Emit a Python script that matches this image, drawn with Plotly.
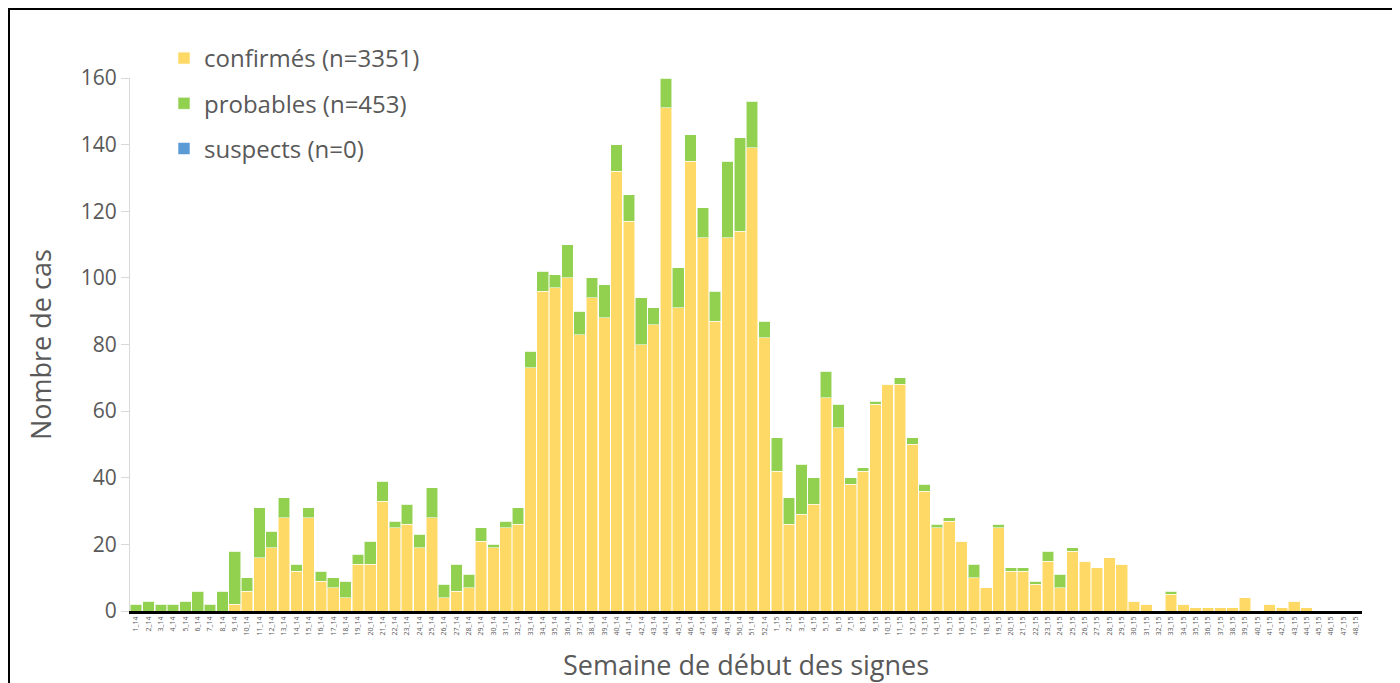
import plotly.graph_objects as go

weeks_2014 = [f"{i}_14" for i in range(1, 53)]
weeks_2015 = [f"{i}_15" for i in range(1, 49)]
categories = weeks_2014 + weeks_2015

confirmes_2014 = [0, 0, 0, 0, 0, 0, 0, 0, 2, 6, 16, 19, 28, 12, 28, 9, 7, 4, 14, 14,
                  33, 25, 26, 19, 28, 4, 6, 7, 21, 19, 25, 26, 73, 96, 97, 100, 83, 94, 88, 132,
                  117, 80, 86, 151, 91, 135, 112, 87, 112, 114, 139, 82]
confirmes_2015 = [42, 26, 29, 32, 64, 55, 38, 42, 62, 68, 68, 50, 36, 25, 27, 21, 10, 7, 25, 12,
                  12, 8, 15, 7, 18, 15, 13, 16, 14, 3, 2, 0, 5, 2, 1, 1, 1, 1, 4, 0,
                  2, 1, 3, 1, 0, 0, 0, 0]
probables_2014 = [2, 3, 2, 2, 3, 6, 2, 6, 16, 4, 15, 5, 6, 2, 3, 3, 3, 5, 3, 7,
                  6, 2, 6, 4, 9, 4, 8, 4, 4, 1, 2, 5, 5, 6, 4, 10, 7, 6, 10, 8,
                  8, 14, 5, 9, 12, 8, 9, 9, 23, 28, 14, 5]
probables_2015 = [10, 8, 15, 8, 8, 7, 2, 1, 1, 0, 2, 2, 2, 1, 1, 0, 4, 0, 1, 1,
                  1, 1, 3, 4, 1, 0, 0, 0, 0, 0, 0, 0, 1, 0, 0, 0, 0, 0, 0, 0,
                  0, 0, 0, 0, 0, 0, 0, 0]
suspects_all = [0] * 100

confirmes = confirmes_2014 + confirmes_2015
probables = probables_2014 + probables_2015

y_ticks = [0, 20, 40, 60, 80, 100, 120, 140, 160]

names = ["confirmés (n=3351)", "probables (n=453)", "suspects (n=0)"]
colors = ["#FFD966", "#92D050", "#5B9BD5"]
series = [confirmes, probables, suspects_all]

FONT = "Open Sans"
GREY = "#595959"

fig = go.Figure()
for i, (nm, col, vals) in enumerate(zip(names, colors, series)):
    fig.add_trace(go.Bar(
        x=categories, y=vals, name=nm, legendgroup=f"g{i}",
        marker=dict(color=col, line=dict(color="rgba(255,255,255,0.55)", width=1)),
    ))

# page body has an 8px offset; target screen plot area x 130..1362, y 78..611
OFF = 8
L, R, T, B = 130, 1362, 78, 611
W, H = R - L, B - T
FW, FH = 1400 - OFF, 683 - OFF

def px(x):
    return (x - L) / W

def py(y):
    return (B - y) / H

fig.update_layout(
    width=FW, height=FH,
    margin=dict(l=L - OFF, r=FW - (R - OFF), t=T - OFF, b=FH - (B - OFF), pad=0),
    paper_bgcolor="white", plot_bgcolor="white",
    barmode="stack", bargap=0.06,
    font=dict(family=FONT, color=GREY),
    showlegend=True,
    legend=dict(
        x=px(164), y=py(36), xanchor="left", yanchor="top",
        font=dict(size=24, color=GREY, family=FONT),
        traceorder="grouped", tracegroupgap=11,
        bgcolor="rgba(0,0,0,0)",
    ),
    xaxis=dict(
        type="category", categoryorder="array", categoryarray=categories,
        tickmode="array", tickvals=categories, ticktext=categories,
        tickangle=-90, tickfont=dict(size=7, color=GREY, family=FONT),
        showline=True, linecolor="black", linewidth=2.5,
        ticks="", showgrid=False, zeroline=False,
        range=[-0.5, 99.5],
    ),
    yaxis=dict(
        range=[0, 160], tickmode="array", tickvals=y_ticks,
        tickfont=dict(size=21, color=GREY, family=FONT),
        showline=True, linecolor="#D9D9D9", linewidth=1,
        ticks="outside", ticklen=8, tickcolor="#D9D9D9",
        showgrid=False, zeroline=False,
    ),
    annotations=[
        dict(text="Nombre de cas", textangle=-90, xref="paper", yref="paper",
             x=px(40), y=py(345), xanchor="center", yanchor="middle",
             showarrow=False, font=dict(size=27, color=GREY, family=FONT)),
        dict(text="Semaine de début des signes", xref="paper", yref="paper",
             x=0.5, y=py(664), xanchor="center", yanchor="middle",
             showarrow=False, font=dict(size=27, color=GREY, family=FONT)),
    ],
    shapes=[
        dict(type="rect", xref="paper", yref="paper",
             x0=px(9), x1=px(1393), y0=py(720), y1=py(9),
             line=dict(color="black", width=2), fillcolor="rgba(0,0,0,0)", layer="above"),
    ],
)

fig.write_html("out.html")
